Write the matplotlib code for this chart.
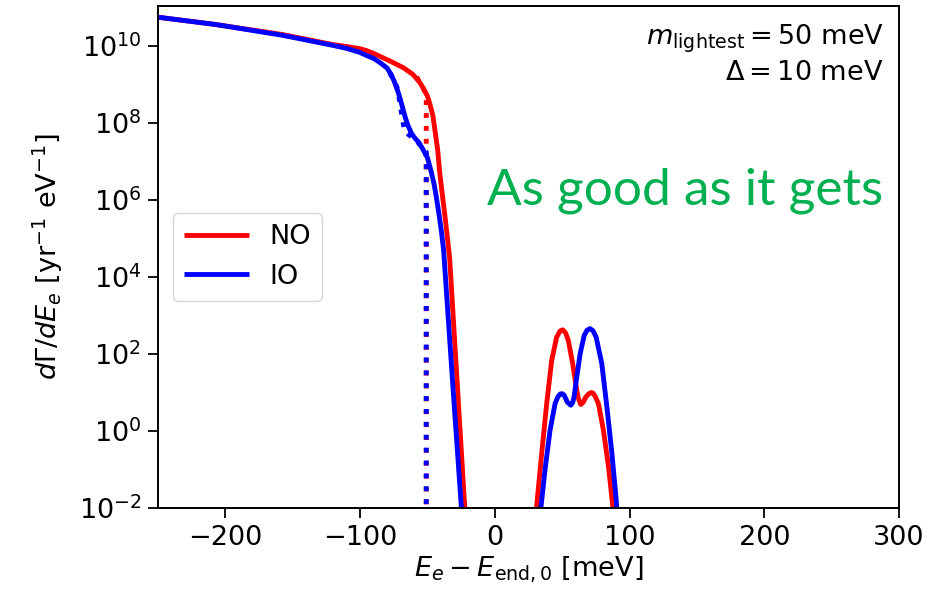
import matplotlib
matplotlib.use('Agg')
import matplotlib.pyplot as plt
from matplotlib.ticker import NullLocator, FixedLocator
import numpy as np

# Spectrum values (y values are log10 of the rate)
no_x = [-250, -207, -157.6, -120.4, -110, -100, -95, -90, -85, -76, -68, -61, -56, -53,
        -50, -48, -46, -44.7, -42.4, -41, -39, -37.2, -35.3, -33.5, -28, -22.3, -21]
no_y = [10.75, 10.56, 10.30, 10.04, 9.99, 9.93, 9.88, 9.81, 9.73, 9.58, 9.44, 9.27,
        9.07, 8.9, 8.7, 8.47, 8.2, 7.88, 7.3, 6.75, 6.15, 5.64, 5.05, 4.48, 1.29, -2.0,
        -2.75]

io_x = [-250, -207, -157.6, -120.4, -110, -100.5, -95.5, -90, -85.6, -80, -76.9, -74.5,
        -72, -70, -68.3, -66.5, -64.6, -62, -59.6, -56.5, -53.4, -50, -47.1, -45, -43.4,
        -41.5, -39.7, -38, -31.4, -24.8, -23.5]
io_y = [10.75, 10.56, 10.28, 10.02, 9.94, 9.84, 9.76, 9.68, 9.58, 9.43, 9.26, 9.07,
        8.83, 8.6, 8.38, 8.15, 7.95, 7.74, 7.62, 7.5, 7.32, 7.1, 6.72, 6.4, 6.07,
        5.65, 5.2, 4.7, 1.3, -2.0, -2.7]

# capture peaks
no_pk_x = [29.8, 31, 34.8, 38.5, 42.2, 45.9, 48.5, 50.4, 52.5, 54.6, 57.8, 60.8, 62,
           63.8, 65.7, 67.5, 69.5, 71.5, 72.7, 74.5, 76.9, 80.6, 84.4, 87.6, 88.3]
no_pk_y = [-2.5, -1.97, -0.58, 0.71, 1.83, 2.44, 2.6, 2.63, 2.55, 2.35, 1.75, 1.06, 0.85,
           0.69, 0.75, 0.88, 0.96, 1.0, 0.99, 0.9, 0.71, 0.02, -0.93, -1.97, -2.5]

io_pk_x = [33.3, 34.2, 37.2, 41, 44.7, 46.7, 48.4, 50, 51.5, 53.8, 56.4, 57.8, 58.8,
           60.8, 63.3, 66.3, 68.5, 70.7, 73, 75.2, 79.4, 83.2, 86.9, 90.1, 91.2]
io_pk_y = [-2.5, -2.0, -1.02, 0.02, 0.71, 0.88, 0.96, 0.97, 0.93, 0.75, 0.67, 0.74, 0.88,
           1.40, 2.0, 2.48, 2.62, 2.66, 2.6, 2.44, 1.75, 0.62, -0.58, -1.79, -2.5]

# unsmeared spectra (dotted)
no_dot_x = [-58, -54, -50.9, -50.9]
no_dot_y = [9.2, 8.95, 8.75, -3]
io_dot_x = [-78, -74, -72, -69.5, -67, -64, -60, -55, -50.9, -50.9]
io_dot_y = [9.3, 9.05, 8.87, 8.3, 7.79, 7.7, 7.6, 7.42, 7.25, -3]

x_ticks = [-200, -100, 0, 100, 200, 300]
y_ticks = [1e-2, 1e0, 1e2, 1e4, 1e6, 1e8, 1e10]

fig = plt.figure(figsize=(9.41, 6.0), dpi=100)
ax = fig.add_axes([158 / 941, 1 - 508 / 600, (899 - 158) / 941, (508 - 6) / 600])

lw = 3.5
kw = dict(lw=lw, solid_joinstyle='round', solid_capstyle='butt')
ax.plot(no_dot_x, 10 ** np.array(no_dot_y), color='red', lw=lw, ls=':', zorder=1)
ax.plot(io_dot_x, 10 ** np.array(io_dot_y), color='blue', lw=lw, ls=':', zorder=1.5)
ax.plot(no_x, 10 ** np.array(no_y), color='red', label='NO', zorder=2, **kw)
ax.plot(io_x, 10 ** np.array(io_y), color='blue', label='IO', zorder=2.5, **kw)
ax.plot(no_pk_x, 10 ** np.array(no_pk_y), color='red', zorder=2, **kw)
ax.plot(io_pk_x, 10 ** np.array(io_pk_y), color='blue', zorder=2.5, **kw)

ax.set_yscale('log')
ax.set_xlim(-250, 300)
ax.set_ylim(1e-2, 1.1e11)
ax.xaxis.set_major_locator(FixedLocator(x_ticks))
ax.yaxis.set_major_locator(FixedLocator(y_ticks))
ax.yaxis.set_minor_locator(NullLocator())

fs = 19.5
ax.tick_params(labelsize=fs, length=7, width=1.3, pad=5)
for s in ax.spines.values():
    s.set_linewidth(1.4)

ax.set_xlabel(r'$E_e - E_{\rm end,0}$ [meV]', fontsize=fs, labelpad=3)
ax.set_ylabel(r'$d\Gamma/dE_e$ [yr$^{-1}$ eV$^{-1}$]', fontsize=fs, labelpad=10)

ax.legend(loc='center left', fontsize=fs, handlelength=2.4, handletextpad=0.75,
          borderpad=0.4, labelspacing=0.5, borderaxespad=0.55)

ax.text(0.9795, 0.967, '$m_{\\rm lightest} = 50$ meV\n$\\Delta = 10$ meV',
        transform=ax.transAxes, ha='right', va='top', fontsize=fs, linespacing=1.25)

fig.text(883 / 941, 1 - 205 / 600, 'As good as it gets', ha='right', va='baseline',
         fontsize=37, color='#00b050', family='Lato')

fig.savefig('out.png', dpi=100)
